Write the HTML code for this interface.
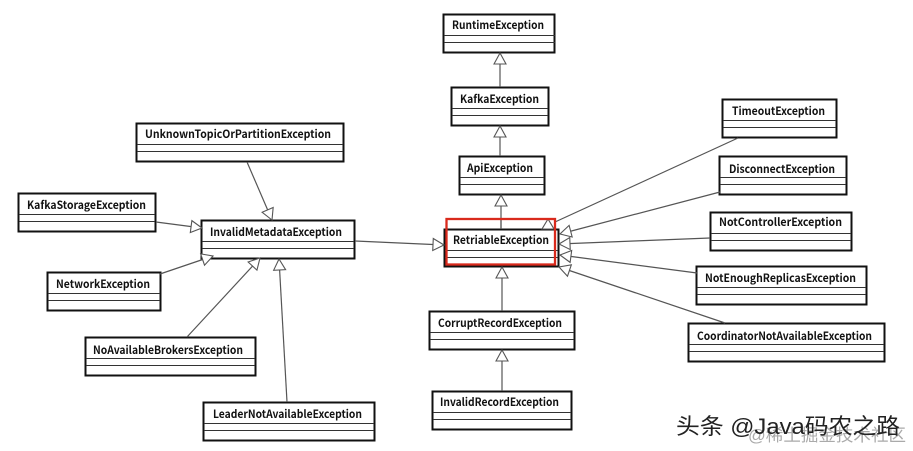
<!DOCTYPE html>
<html><head><meta charset="utf-8"><style>
html,body{margin:0;padding:0;background:#fff;width:913px;height:451px;overflow:hidden}
svg{display:block;filter:blur(.3px)}
.b rect{fill:#fff;stroke:#111;stroke-width:2}
.d{stroke:#333;stroke-width:1;fill:none}
.l{stroke:#555;stroke-width:1.2;fill:none}
.a{fill:#fff;stroke:#555;stroke-width:1.1}
.t{font:700 11px "Noto Sans CJK SC","Liberation Sans",sans-serif;fill:#111}
</style></head><body>
<svg width="913" height="451" viewBox="0 0 913 451" xmlns="http://www.w3.org/2000/svg">
<defs><marker id="m" markerUnits="userSpaceOnUse" markerWidth="16" markerHeight="16" refX="12" refY="7" orient="auto"><path d="M1 1 L12 7 L1 13 Z" fill="#fff" stroke="#555" stroke-width="1.1"/></marker></defs>
<g class="b">
<rect x="443.500" y="14.500" width="111" height="38"/>
<rect x="451.500" y="87.500" width="97" height="38"/>
<rect x="459.500" y="156.500" width="85" height="38"/>
<rect x="444.500" y="229.500" width="114" height="37"/>
<rect x="429.500" y="311.500" width="145" height="38"/>
<rect x="432.500" y="391.500" width="139" height="38"/>
<rect x="722.500" y="99.500" width="114" height="38"/>
<rect x="719.500" y="156.500" width="127" height="38"/>
<rect x="710.500" y="212.500" width="141" height="38"/>
<rect x="696.500" y="266.500" width="170" height="38"/>
<rect x="688.500" y="323.500" width="196" height="38"/>
<rect x="136.500" y="123.500" width="207" height="38"/>
<rect x="18.500" y="193.500" width="137" height="38"/>
<rect x="201.500" y="220.500" width="153" height="38"/>
<rect x="47.500" y="272.500" width="113" height="38"/>
<rect x="85.500" y="337.500" width="170" height="38"/>
<rect x="203.500" y="402.500" width="171" height="38"/>
</g>
<path class="d" d="M444 35.500H555M444 42.500H555M452 108.500H548M452 115.500H548M460 177.500H544M460 184.500H544M445 250.500H558M445 257.500H558M430 332.500H574M430 339.500H574M433 412.500H571M433 419.500H571M723 120.500H836M723 127.500H836M720 177.500H846M720 184.500H846M711 233.500H851M711 240.500H851M697 287.500H866M697 294.500H866M689 344.500H884M689 351.500H884M137 144.500H343M137 151.500H343M19 214.500H155M19 221.500H155M202 241.500H354M202 248.500H354M48 293.500H160M48 300.500H160M86 358.500H255M86 365.500H255M204 423.500H374M204 430.500H374"/>
<g class="l">
<path d="M500 87V53" marker-end="url(#m)"/>
<path d="M500 156V126" marker-end="url(#m)"/>
<path d="M501 229V195" marker-end="url(#m)"/>
<path d="M502 311V267" marker-end="url(#m)"/>
<path d="M502 391V350" marker-end="url(#m)"/>
<path d="M738 138L555 222"/>
<path d="M720 192L560 234" marker-end="url(#m)"/>
<path d="M710 238L559 244" marker-end="url(#m)"/>
<path d="M697 273L560 255" marker-end="url(#m)"/>
<path d="M725 323L559 267" marker-end="url(#m)"/>
<path d="M247 162L272 220" marker-end="url(#m)"/>
<path d="M156 222L202 228" marker-end="url(#m)"/>
<path d="M160 274L213 256" marker-end="url(#m)"/>
<path d="M187 337L260 258" marker-end="url(#m)"/>
<path d="M287 402L279 259" marker-end="url(#m)"/>
<path d="M355 241L444 245" marker-end="url(#m)"/>
</g>
<polygon class="a" points="548,219 542,229 554,229"/>
<path d="M501 219V229" class="l"/>
<rect x="446.500" y="219" width="108.500" height="45.500" fill="none" stroke="#d92a1c" stroke-width="2.300"/>
<g class="t">
<text x="452" y="29" textLength="92" lengthAdjust="spacingAndGlyphs">RuntimeException</text>
<text x="460" y="103" textLength="79" lengthAdjust="spacingAndGlyphs">KafkaException</text>
<text x="467" y="172" textLength="66" lengthAdjust="spacingAndGlyphs">ApiException</text>
<text x="453" y="244" textLength="96" lengthAdjust="spacingAndGlyphs">RetriableException</text>
<text x="438" y="327" textLength="124" lengthAdjust="spacingAndGlyphs">CorruptRecordException</text>
<text x="440" y="406" textLength="119" lengthAdjust="spacingAndGlyphs">InvalidRecordException</text>
<text x="732" y="115" textLength="93" lengthAdjust="spacingAndGlyphs">TimeoutException</text>
<text x="729" y="173" textLength="106" lengthAdjust="spacingAndGlyphs">DisconnectException</text>
<text x="719" y="226" textLength="123" lengthAdjust="spacingAndGlyphs">NotControllerException</text>
<text x="705" y="282" textLength="151" lengthAdjust="spacingAndGlyphs">NotEnoughReplicasException</text>
<text x="697" y="340" textLength="175" lengthAdjust="spacingAndGlyphs">CoordinatorNotAvailableException</text>
<text x="145" y="138" textLength="186" lengthAdjust="spacingAndGlyphs">UnknownTopicOrPartitionException</text>
<text x="27" y="209" textLength="119" lengthAdjust="spacingAndGlyphs">KafkaStorageException</text>
<text x="210" y="236" textLength="132" lengthAdjust="spacingAndGlyphs">InvalidMetadataException</text>
<text x="56" y="288" textLength="94" lengthAdjust="spacingAndGlyphs">NetworkException</text>
<text x="93" y="354" textLength="150" lengthAdjust="spacingAndGlyphs">NoAvailableBrokersException</text>
<text x="213" y="418" textLength="149" lengthAdjust="spacingAndGlyphs">LeaderNotAvailableException</text>
</g>
<text x="748" y="441" font-family="'Liberation Sans','Noto Sans CJK SC',sans-serif" font-size="17" fill="#aaa" textLength="158" lengthAdjust="spacingAndGlyphs">@稀土掘金技术社区</text>
<text x="676" y="434" font-family="'Liberation Sans','Noto Sans CJK SC',sans-serif" font-size="22" fill="#222" textLength="224" lengthAdjust="spacingAndGlyphs">头条 @Java码农之路</text>
</svg>
</body></html>
